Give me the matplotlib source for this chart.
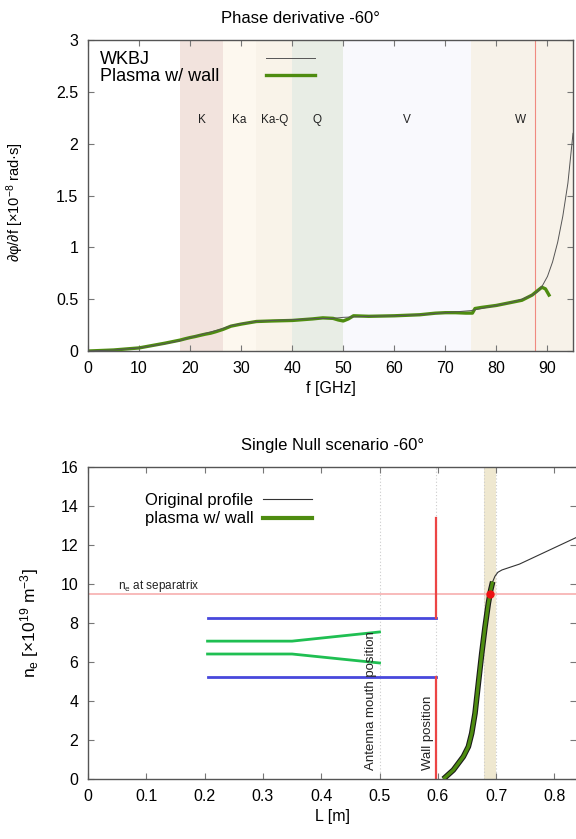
#!/usr/bin/env python3
import matplotlib
matplotlib.use("Agg")
import matplotlib.pyplot as plt

# --- top panel: phase derivative vs frequency ---
f_wkbj = [0, 5, 10, 15, 18, 20, 23, 26, 28, 30, 33, 36, 40, 44, 48, 50, 55, 60,
          65, 70, 75, 78, 80, 83, 85, 87, 88, 89, 90, 91, 92, 93, 94, 95]
dphi_wkbj = [0, 0.01, 0.03, 0.07, 0.1, 0.13, 0.17, 0.21, 0.245, 0.265, 0.285,
             0.295, 0.302, 0.312, 0.315, 0.325, 0.335, 0.34, 0.35, 0.37, 0.39,
             0.42, 0.44, 0.47, 0.5, 0.54, 0.57, 0.63, 0.72, 0.86, 1.05, 1.3,
             1.62, 2.1]

f_wall = [0, 5, 10, 15, 18, 19, 20, 21, 22, 23, 24, 25, 26.5, 28, 30, 33, 36,
          40, 44, 46, 48, 49, 50, 51, 52, 55, 60, 65, 68, 70, 72, 74, 75.3,
          75.8, 77, 80, 83, 85, 87, 88, 88.9, 89.6, 90.3]
dphi_wall = [0, 0.01, 0.03, 0.075, 0.105, 0.118, 0.13, 0.14, 0.152, 0.163,
             0.172, 0.186, 0.21, 0.24, 0.26, 0.285, 0.29, 0.295, 0.31, 0.32,
             0.315, 0.3, 0.29, 0.31, 0.34, 0.335, 0.34, 0.35, 0.365, 0.37,
             0.37, 0.366, 0.366, 0.41, 0.42, 0.44, 0.47, 0.49, 0.54, 0.58,
             0.615, 0.6, 0.54]

band_names = ["K", "Ka", "Ka-Q", "Q", "V", "W"]
band_lo = [18, 26.5, 33, 40, 50, 75]
band_hi = [26.5, 33, 40, 50, 75, 110]
band_label_f = [22.3, 29.6, 36.5, 44.9, 62.5, 84.8]
band_colors = ["#f2e3dd", "#fdf8ef", "#f9f3e9", "#e8ede5", "#f9f9fd", "#f7f2e9"]
f_cutoff = 87.6

# --- bottom panel: density profile ---
L_wall = [0.6095, 0.6266, 0.6438, 0.6524, 0.6581, 0.6638, 0.6695, 0.6753,
          0.681, 0.6866, 0.6907, 0.6941]
ne_wall = [0.0, 0.46, 1.15, 1.66, 2.34, 3.37, 4.9, 6.44, 7.81, 9.0, 9.69, 10.12]
L_orig = L_wall + [0.698, 0.703, 0.71, 0.72, 0.74, 0.76, 0.78, 0.80, 0.82, 0.84]
ne_orig = ne_wall + [10.4, 10.6, 10.72, 10.82, 11.02, 11.3, 11.58, 11.86,
                     12.14, 12.42]

ne_sep = 9.5
L_sep = 0.6895
L_wallpos = 0.597
L_antenna = 0.5
wall_top = 13.4

wg_L = [0.205, L_wallpos]
wg_upper = [8.25, 8.25]
wg_lower = [5.22, 5.22]
horn_L = [0.205, 0.35, 0.5]
horn_upper = [7.07, 7.07, 7.54]
horn_lower = [6.41, 6.41, 5.95]
band_L = (0.679, 0.700)

GREEN = "#4e8c10"


def style_axes(ax):
    for s in ax.spines.values():
        s.set_color("#555555")
        s.set_linewidth(1.0)
    ax.tick_params(direction="in", top=True, right=True, length=4,
                   width=0.8, color="#777777", labelsize=11.5, pad=7)


def left_align_legend(fig, leg):
    # gnuplot style: text left-aligned, sample lines in a column on the right
    fig.canvas.draw()
    r = fig.canvas.get_renderer()
    widths = [t.get_window_extent(r).width * 72.0 / fig.dpi for t in leg.get_texts()]
    col = leg._legend_box.get_children()[1].get_children()[0]
    for box, w in zip(col.get_children(), widths):
        box.sep += max(widths) - w
    col.align = "left"


def main() -> None:
    plt.rcParams["font.family"] = ["Liberation Sans", "DejaVu Sans"]
    plt.rcParams["mathtext.fontset"] = "custom"
    plt.rcParams["mathtext.rm"] = "Liberation Sans"
    plt.rcParams["mathtext.it"] = "Liberation Sans:italic"

    fig = plt.figure(figsize=(5.76, 8.39), dpi=100)

    # ---------------- top ----------------
    ax1 = fig.add_axes([0.1528, 0.5816, 0.8420, 0.3707])
    for name, lo, hi, fl, c in zip(band_names, band_lo, band_hi, band_label_f, band_colors):
        ax1.axvspan(lo, hi, color=c, lw=0, zorder=0)
        ax1.text(fl, 2.23, name, ha="center", va="center", fontsize=8.5, color="#222222")
    ax1.axvline(f_cutoff, color="#f08a80", lw=0.8, zorder=1)
    ax1.plot(f_wkbj, dphi_wkbj, color="#555555", lw=0.7, label="WKBJ", zorder=3)
    ax1.plot(f_wall, dphi_wall, color=GREEN, lw=2.4, label="Plasma w/ wall", zorder=2)
    ax1.set_xlim(0, 95)
    ax1.set_ylim(0, 3)
    ax1.set_xticks(range(0, 91, 10))
    ax1.set_yticks([0, 0.5, 1, 1.5, 2, 2.5, 3])
    ax1.set_yticklabels(["0", "0.5", "1", "1.5", "2", "2.5", "3"])
    style_axes(ax1)
    ax1.set_xlabel("f [GHz]", fontsize=11.5, labelpad=4)
    ax1.set_ylabel(r"∂φ/∂f [×10$^{-8}$ rad·s]", fontsize=10.5)
    ax1.yaxis.set_label_coords(-0.128, 0.48)
    ax1.set_title("Phase derivative -60°", fontsize=12, x=0.437, pad=12)
    leg1 = ax1.legend(loc="upper left", bbox_to_anchor=(0.006, 0.994), frameon=False,
                      fontsize=13, markerfirst=False, handlelength=2.7,
                      handletextpad=2.6, labelspacing=0.0, borderpad=0.0)

    # ---------------- bottom ----------------
    ax2 = fig.add_axes([0.1528, 0.0715, 0.8472, 0.3719])
    ax2.axvspan(band_L[0], band_L[1], color="#efe8d0", lw=0, zorder=0)
    for xv in (L_antenna, L_wallpos, band_L[0], band_L[1]):
        ax2.axvline(xv, color="#cccccc", lw=0.8, ls=(0, (1, 2)), zorder=1)
    ax2.axhline(ne_sep, color="#f7a8a8", lw=1.1, zorder=1)
    ax2.text(0.051, 9.75, r"n$_{\rm e}$ at separatrix", fontsize=8.5, color="#222222")

    ax2.plot(wg_L, wg_upper, color="#4848dc", lw=2.0, zorder=2)
    ax2.plot(wg_L, wg_lower, color="#4848dc", lw=2.0, zorder=2)
    ax2.plot(horn_L, horn_upper, color="#1fbf52", lw=2.0, zorder=2)
    ax2.plot(horn_L, horn_lower, color="#1fbf52", lw=2.0, zorder=2)
    ax2.plot([L_wallpos, L_wallpos], [wg_upper[0], wall_top], color="#ec4545", lw=1.6, zorder=2)
    ax2.plot([L_wallpos, L_wallpos], [0, wg_lower[0]], color="#ec4545", lw=1.6, zorder=2)

    ax2.text(0.486, 0.45, "Antenna mouth position", rotation=90, ha="center",
             va="bottom", fontsize=9.5, color="#222222")
    ax2.text(0.583, 0.45, "Wall position", rotation=90, ha="center",
             va="bottom", fontsize=9.5, color="#222222")

    ax2.plot(L_orig, ne_orig, color="#333333", lw=0.8, label="Original profile", zorder=3)
    ax2.plot(L_wall, ne_wall, color="#1a1a1a", lw=4.0, zorder=4, solid_capstyle="butt")
    ax2.plot(L_wall, ne_wall, color=GREEN, lw=2.4, zorder=5, solid_capstyle="butt")
    ax2.plot([], [], color=GREEN, lw=3, label="plasma w/ wall")
    ax2.plot([L_sep], [ne_sep], "o", color="#ee1111", ms=5, zorder=6)

    ax2.set_xlim(0, 0.837)
    ax2.set_ylim(0, 16)
    ax2.set_xticks([0, 0.1, 0.2, 0.3, 0.4, 0.5, 0.6, 0.7, 0.8])
    ax2.set_xticklabels(["0", "0.1", "0.2", "0.3", "0.4", "0.5", "0.6", "0.7", "0.8"])
    ax2.set_yticks(range(0, 17, 2))
    style_axes(ax2)
    ax2.spines["right"].set_visible(False)
    ax2.set_xlabel("L [m]", fontsize=11.5, labelpad=4)
    ax2.set_ylabel(r"n$_{\rm e}$ [×10$^{19}$ m$^{-3}$]", fontsize=12.5)
    ax2.yaxis.set_label_coords(-0.096, 0.5)
    ax2.set_title("Single Null scenario -60°", fontsize=12, pad=12)
    ax2.legend(loc="upper left", bbox_to_anchor=(0.092, 0.955), frameon=False,
               fontsize=12, markerfirst=False, handlelength=2.9,
               handletextpad=0.6, labelspacing=0.22, borderpad=0.2)

    left_align_legend(fig, leg1)
    fig.savefig("out.png", dpi=100)
    plt.close(fig)


if __name__ == "__main__":
    main()
